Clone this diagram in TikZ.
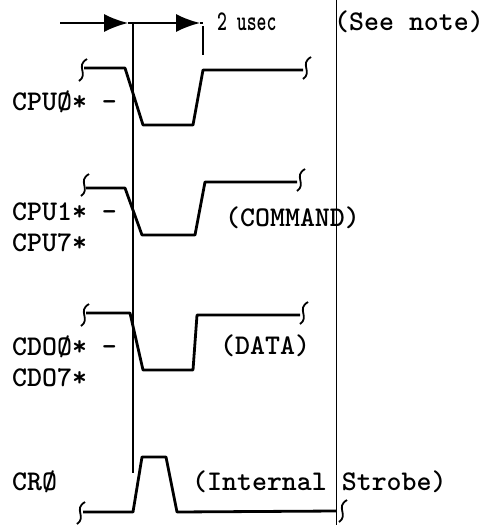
\documentclass[tikz,border=0pt]{standalone}
\usepackage{fontspec}
\usetikzlibrary{arrows.meta}
\tikzset{
	wave/.style  = {line width=2.8pt, line join=round},
	guide/.style = {line width=1.1pt},
	brk/.style   = {line width=1.8pt},
	lbl/.style   = {anchor=west, inner sep=0pt, font=\ttfamily\bfseries\fontsize{28.5}{32}\selectfont},
	tick/.style  = {coordinate}
}
% break marks at the ends of a trace
\newcommand{\lbreak}[2]{\draw[brk] (#1+5,#2-11) .. controls (#1-7,#2-4) and (#1+7,#2+4) .. (#1-3,#2+11);}
\newcommand{\rbreak}[2]{\draw[brk] (#1+5,#2-11) .. controls (#1-7,#2-4) and (#1+7,#2+4) .. (#1-3,#2+11);}

\begin{document}
\begin{tikzpicture}[x=1pt, y=-1pt, >={Latex[length=24pt,width=18pt]}]
\useasboundingbox (0,0) rectangle (485,525);

% labels
\draw
node at (12,102) [lbl] (cpu0) {CPUØ* -}
node at (12,212) [lbl] (cpu1) {CPU1* -}
node at (12,243) [lbl] (cpu7) {CPU7*}
node at (12,347) [lbl] (cdo0) {CDOØ* -}
node at (12,378) [lbl] (cdo7) {CDO7*}
node at (12,482) [lbl] (cr0) {CRØ}
node at (217,22) [lbl] (usec) {\scalebox{0.66}[1]{2 usec}}
node at (334,22) [lbl] (note) {(See note)}
node at (225,218) [lbl] (cmd) {(COMMAND)}
node at (220,346) [lbl] (data) {(DATA)}
node at (192,482) [lbl] (strobe) {(Internal Strobe)};

% timing marks
\draw
node at (60,23) [tick] (t0) {}
node at (128,23) [tick] (t1) {}
node at (133,23) [tick] (t2) {}
node at (200,23) [tick] (t3) {}
node at (203,23) [tick] (t4) {}
node at (133,473) [tick] (t5) {}
node at (203,55) [tick] (t6) {}
node at (336,0) [tick] (n0) {}
node at (336,525) [tick] (n1) {};

\draw[->, line width=1.8pt] (t0)--(t1);
\draw[->, line width=1.8pt] (t1)--(t3);
\draw[line width=1.8pt] (t3)--(t4);
\draw[guide] (t2)--(t5);
\draw[guide] ([yshift=-3pt]t4)--(t6);
\draw[line width=0.8pt] (n0)--(n1);

% CPU0*
\draw[wave] (84,68)--(125,68)--(143,125)--(193,125)--(203,70)--(303,70);
\lbreak{82}{70}
\rbreak{306}{68}
% CPU1* - CPU7*
\draw[wave] (86,188)--(125,188)--(142,235)--(195,235)--(205,182)--(297,182);
\lbreak{84}{185}
\rbreak{300}{180}
% CDO0* - CDO7*
\draw[wave] (86,313)--(130,313)--(143,370)--(193,370)--(197,315)--(300,315);
\lbreak{84}{315}
\rbreak{303}{313}
% CR0
\draw[wave] (83,512)--(133,512)--(142,457)--(166,457)--(177,512)--(336,511);
\lbreak{80}{513}
\rbreak{342}{511}
\end{tikzpicture}
\end{document}
